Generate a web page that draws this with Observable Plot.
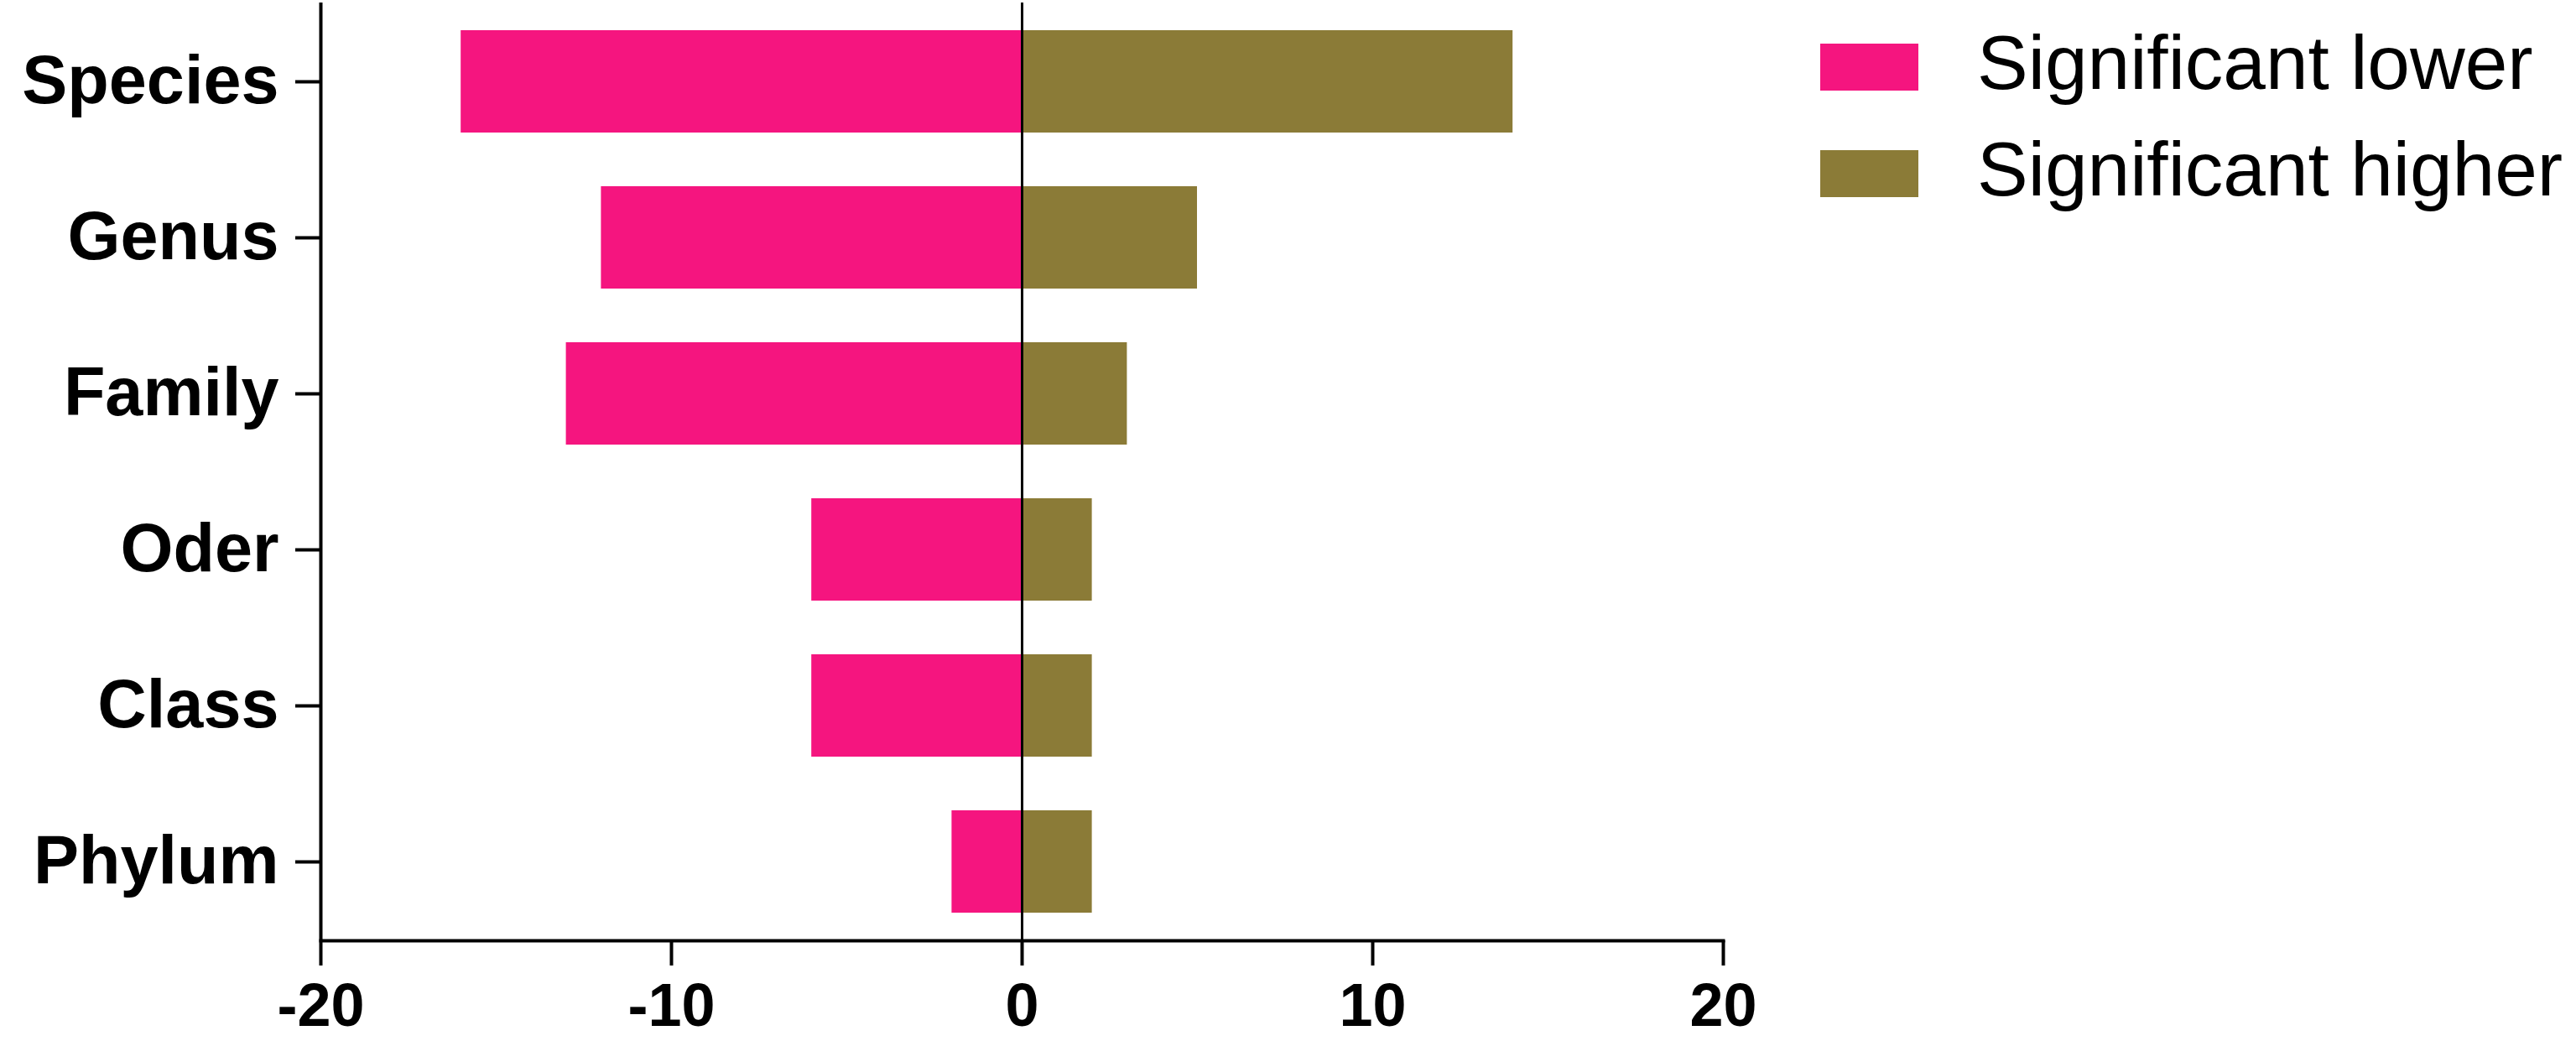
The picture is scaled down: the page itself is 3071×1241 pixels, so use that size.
<!DOCTYPE html>
<html>
<head>
<meta charset="utf-8">
<script src="https://cdn.jsdelivr.net/npm/d3@7"></script>
<script src="https://cdn.jsdelivr.net/npm/@observablehq/plot@0.6"></script>
<style>
  html, body { margin: 0; padding: 0; background: #fff; }
  #wrap { position: relative; width: 3071px; height: 1241px; overflow: hidden; font-family: "Liberation Sans", Arial, sans-serif; }
  #legend { position: absolute; left: 2170px; top: 52px; }
  .row { display: flex; align-items: center; height: 56px; margin-bottom: 71px; }
  .sw { width: 117px; height: 56px; flex: none; }
  .lab { margin-left: 70px; font-size: 91px; line-height: 56px; white-space: nowrap; color: #000; position: relative; top: -5px; }
</style>
</head>
<body>
<div id="wrap"><div id="legend"></div></div>
<script>
const categories = ["Species", "Genus", "Family", "Oder", "Class", "Phylum"];
const lowerValues = [-16, -12, -13, -6, -6, -2];
const higherValues = [14, 5, 3, 2, 2, 2];
const seriesNames = ["Significant lower", "Significant higher"];
const seriesColors = ["#F5157F", "#8B7B37"];
const xTicks = [-20, -10, 0, 10, 20];

const rows = [];
categories.forEach((c, i) => {
  rows.push({category: c, series: seriesNames[0], base: 0, value: lowerValues[i]});
  rows.push({category: c, series: seriesNames[1], base: 0, value: higherValues[i]});
});

const chart = Plot.plot({
  width: 3071,
  height: 1241,
  marginLeft: 382,
  marginRight: 1017,
  marginTop: 3,
  marginBottom: 120,
  style: {fontFamily: "'Liberation Sans', Arial, sans-serif", background: "white", color: "black"},
  x: {domain: [-20, 20]},
  y: {domain: categories, paddingInner: 0.344, paddingOuter: 0.177},
  color: {domain: seriesNames, range: seriesColors},
  marks: [
    Plot.barX(rows, {x1: "base", x2: "value", y: "category", fill: "series"}),
    Plot.ruleX([0], {stroke: "black", strokeWidth: 3}),
    Plot.ruleX([-20], {stroke: "black", strokeWidth: 4}),
    Plot.frame({anchor: "bottom", stroke: "black", strokeWidth: 4}),
    Plot.axisX({ticks: xTicks, tickFormat: d => String(d), tickSize: 30, tickPadding: 20,
      fontSize: 72, fontWeight: "bold", strokeWidth: 4, label: null}),
    Plot.axisY({tickSize: 30, tickPadding: 20, fontSize: 81, fontWeight: "bold",
      strokeWidth: 4, label: null})
  ]
});
document.getElementById("wrap").prepend(chart);

const legend = document.getElementById("legend");
seriesNames.forEach((name, i) => {
  const row = document.createElement("div");
  row.className = "row";
  const sw = document.createElement("div");
  sw.className = "sw";
  sw.style.background = seriesColors[i];
  const lab = document.createElement("div");
  lab.className = "lab";
  lab.textContent = name;
  row.appendChild(sw);
  row.appendChild(lab);
  legend.appendChild(row);
});
</script>
</body>
</html>
